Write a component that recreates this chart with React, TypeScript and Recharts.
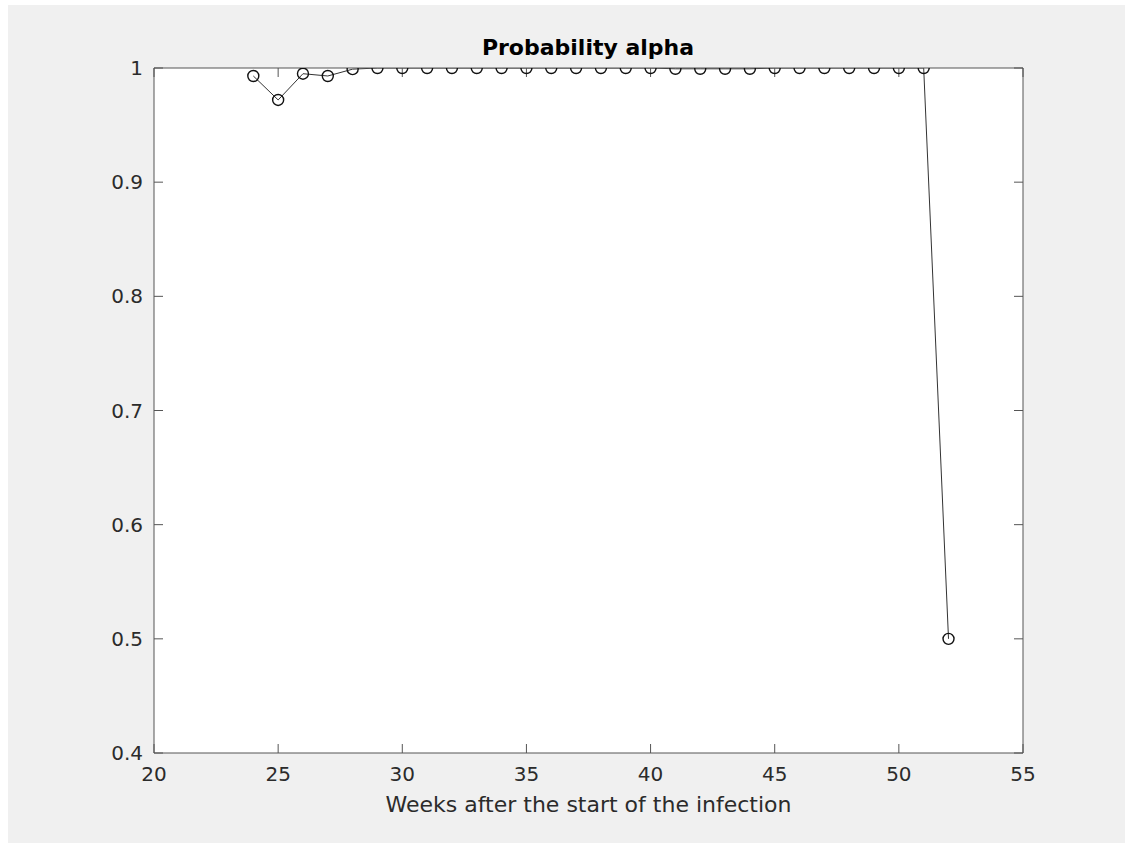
import { LineChart, Line, XAxis, YAxis, CartesianGrid } from "recharts"

const weeks = [
  24, 25, 26, 27, 28, 29, 30, 31, 32, 33, 34, 35, 36, 37, 38,
  39, 40, 41, 42, 43, 44, 45, 46, 47, 48, 49, 50, 51, 52
]

const alpha = [
  0.993, 0.972, 0.995, 0.993, 0.999, 1, 1, 1, 1, 1, 1, 1, 1, 1, 1,
  1, 1, 0.9993, 0.9993, 0.9993, 0.9993, 1, 1, 1, 1, 1, 1, 1, 0.5
]

const xTicks = [20, 25, 30, 35, 40, 45, 50, 55]
const yTicks = [0.4, 0.5, 0.6, 0.7, 0.8, 0.9, 1]

const data = weeks.map((w, i) => ({ week: w, alpha: alpha[i] }))

const font = "'DejaVu Sans', sans-serif"
const textColor = "#2b2b2b"
const axisColor = "#555"

// box-side axes: tick marks only, no labels
const noLabel = () => <g />

export default function App() {
  return (
    <div
      style={{
        position: "absolute",
        left: 8,
        top: 5,
        width: 1117,
        height: 838,
        background: "#f0f0f0",
        fontFamily: font
      }}
    >
      <LineChart
        width={1117}
        height={838}
        data={data}
        margin={{ top: 53, right: 92, bottom: 0, left: 0 }}
      >
        <CartesianGrid fill="#ffffff" horizontal={false} vertical={false} />

        <XAxis
          xAxisId="bottom"
          dataKey="week"
          type="number"
          domain={[20, 55]}
          ticks={xTicks}
          allowDataOverflow
          height={90}
          stroke={axisColor}
          tickSize={-9}
          tickMargin={23}
          tick={{ fill: textColor, fontSize: 20, fontFamily: font }}
          label={{
            value: "Weeks after the start of the infection",
            position: "insideBottom",
            offset: 31,
            fill: textColor,
            fontSize: 22,
            fontFamily: font
          }}
        />
        <XAxis
          xAxisId="top"
          orientation="top"
          dataKey="week"
          type="number"
          domain={[20, 55]}
          ticks={xTicks}
          allowDataOverflow
          height={10}
          stroke={axisColor}
          tickSize={-9}
          tick={noLabel}
        />

        <YAxis
          yAxisId="left"
          type="number"
          domain={[0.4, 1]}
          ticks={yTicks}
          allowDataOverflow
          width={146}
          stroke={axisColor}
          tickSize={-9}
          tickMargin={20}
          tick={{ fill: textColor, fontSize: 20, fontFamily: font }}
        />
        <YAxis
          yAxisId="right"
          orientation="right"
          type="number"
          domain={[0.4, 1]}
          ticks={yTicks}
          allowDataOverflow
          width={10}
          stroke={axisColor}
          tickSize={-9}
          tick={noLabel}
        />

        <Line
          xAxisId="bottom"
          yAxisId="left"
          dataKey="alpha"
          stroke="#333"
          strokeWidth={1}
          dot={{ r: 5.5, stroke: "#111", strokeWidth: 1.4, fill: "none" }}
          activeDot={false}
          isAnimationActive={false}
        />

        <text
          x={580}
          y={50}
          textAnchor="middle"
          fill="#000"
          fontSize={22}
          fontWeight="bold"
          fontFamily={font}
        >
          Probability alpha
        </text>
      </LineChart>
    </div>
  )
}
